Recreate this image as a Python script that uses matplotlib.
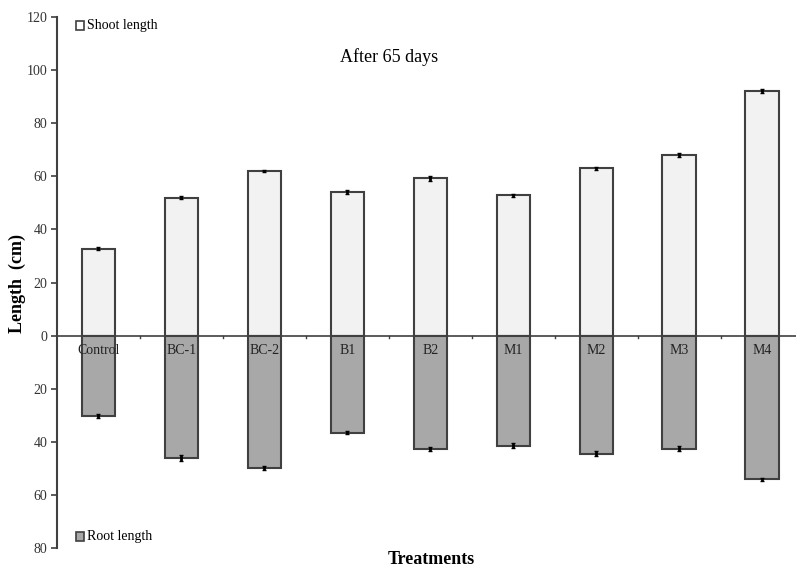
import numpy as np
import matplotlib.pyplot as plt
from matplotlib.patches import Rectangle

plt.rcParams['font.family'] = ['Liberation Serif', 'DejaVu Serif']

treatments = ['Control', 'BC-1', 'BC-2', 'B1', 'B2', 'M1', 'M2', 'M3', 'M4']
shoot = [32.8, 52.0, 62.0, 54.2, 59.2, 52.8, 63.0, 68.0, 92.2]
shoot_err = [0.7, 0.5, 0.5, 0.8, 0.9, 0.6, 0.6, 0.7, 0.7]
root = [30.2, 46.0, 49.8, 36.6, 42.6, 41.5, 44.5, 42.6, 54.1]
root_err = [0.8, 1.2, 0.7, 0.5, 0.8, 0.9, 1.0, 0.9, 0.5]
yticks = [-80, -60, -40, -20, 0, 20, 40, 60, 80, 100, 120]

edge = '#404040'
x = np.arange(len(treatments))

fig = plt.figure(figsize=(7.96, 5.69), dpi=100)
ax = fig.add_axes([57/796, 21/569, 1 - 57/796, 531/569])

ax.bar(x, shoot, width=0.4, color='#f2f2f2', edgecolor=edge, linewidth=1.5,
       label='Shoot length', zorder=2)
ax.bar(x, [-r for r in root], width=0.4, color='#a8a8a8', edgecolor=edge, linewidth=1.5,
       label='Root length', zorder=2)
ax.errorbar(x, shoot, yerr=shoot_err, fmt='none', ecolor='black', elinewidth=2,
            capsize=1.5, zorder=3)
ax.errorbar(x, [-r for r in root], yerr=root_err, fmt='none', ecolor='black', elinewidth=2,
            capsize=1.5, zorder=3)

ax.axhline(0, color=edge, linewidth=1.2, zorder=1)
for xm in x[:-1] + 0.5:
    ax.plot([xm, xm], [0, -0.8], color=edge, linewidth=1, zorder=1)

for xi, name in zip(x, treatments):
    ax.text(xi, -5.6, name, ha='center', va='center', fontsize=10, color='#222222', zorder=4)

ax.set_xlim(-0.5, 8.41)
ax.set_ylim(-80, 120)
ax.set_yticks(yticks)
ax.set_yticklabels([str(abs(t)) for t in yticks], fontsize=10, color='#333333')
ax.set_xticks([])
for s in ['top', 'right', 'bottom']:
    ax.spines[s].set_visible(False)
ax.spines['left'].set_color(edge)
ax.spines['left'].set_linewidth(1.5)
ax.tick_params(axis='y', direction='out', length=4, color=edge, width=1.2, pad=3)

ax.text(3.5, 105, 'After 65 days', ha='center', va='center', fontsize=13)
fig.text(17/796, 1 - 283/569, 'Length  (cm)', rotation=90, ha='center', va='center',
         fontsize=13, fontweight='bold')
fig.text(431/796, 1 - 560/569, 'Treatments', ha='center', va='center', fontsize=13,
         fontweight='bold')

ax.add_patch(Rectangle((-0.27, 115.2), 0.09, 3.2, facecolor='white', edgecolor=edge,
                       linewidth=1.2, clip_on=False))
ax.text(-0.14, 116.8, 'Shoot length', ha='left', va='center', fontsize=10)
ax.add_patch(Rectangle((-0.27, -77.3), 0.09, 3.2, facecolor='#a8a8a8', edgecolor=edge,
                       linewidth=1.2, clip_on=False))
ax.text(-0.14, -75.7, 'Root length', ha='left', va='center', fontsize=10)

fig.savefig('out.png', dpi=100)
